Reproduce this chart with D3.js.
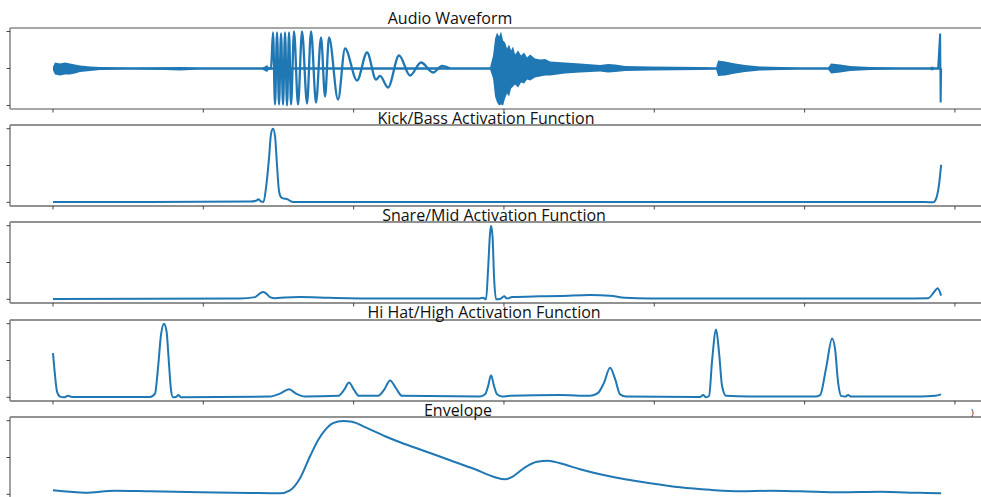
<!DOCTYPE html>
<html>
<head>
<meta charset="utf-8">
<script src="https://cdn.jsdelivr.net/npm/d3@7"></script>
<style>
body { margin: 0; background: #fff; }
svg { display: block; font-family: "Open Sans", sans-serif; }
</style>
</head>
<body>
<script>
// ---- data (time in seconds) ----
const titles = ["Audio Waveform", "Kick/Bass Activation Function", "Snare/Mid Activation Function",
	"Hi Hat/High Activation Function", "Envelope"];
const xTicks = [0, 1, 2, 3, 4, 5, 6];
const waveTicks = [-1, 0, 1];
const actTicks = [0, 0.5, 1];

// waveform: noisy parts as an envelope
const noiseT = [0, 0.0133, 0.0466, 0.0798, 0.1131, 0.1464, 0.1796, 0.2462, 0.3127, 0.5123, 0.7452, 0.8450, 0.9780,
	1.3906, 1.4105, 1.4238, 1.4371, 2.6414, 2.9075,
	2.9275, 2.9408, 2.9541, 2.9674, 2.9807, 2.9940, 3.0073, 3.0206, 3.0339, 3.0472, 3.0605, 3.0739, 3.0938,
	3.1138, 3.1337, 3.1537, 3.1737, 3.2069, 3.2402, 3.2735, 3.3067,
	3.4065, 3.5063, 3.6394, 3.6926, 3.7392, 3.8057, 3.9721, 4.3047, 4.4112, 4.4245,
	4.4711, 4.5376, 4.6041, 4.7039, 4.9701, 5.1564, 5.1763, 5.2362, 5.3027, 5.4358, 5.6354, 5.8350, 5.8483, 5.8616, 5.9082];
const noiseHi = [0.05, 0.162, 0.135, 0.162, 0.135, 0.108, 0.081, 0.054, 0.041, 0.027, 0.032, 0.041, 0.027,
	0.027, 0.054, 0.095, 0.027, 0.027, 0.027,
	0.351, 0.811, 0.973, 0.865, 1.0, 0.757, 0.703, 0.541, 0.649, 0.486, 0.595, 0.378, 0.486,
	0.351, 0.432, 0.297, 0.378, 0.270, 0.243, 0.257, 0.189,
	0.162, 0.135, 0.095, 0.122, 0.108, 0.068, 0.054, 0.041, 0.027, 0.216,
	0.189, 0.135, 0.095, 0.054, 0.027, 0.027, 0.135, 0.108, 0.068, 0.041, 0.027, 0.027, 0.054, 0.027, 0.027];
const noiseLo = [-0.05, -0.162, -0.189, -0.162, -0.162, -0.135, -0.095, -0.068, -0.041, -0.027, -0.041, -0.054, -0.027,
	-0.027, -0.068, -0.095, -0.027, -0.027, -0.027,
	-0.27, -0.757, -0.919, -1.0, -0.973, -1.0, -0.811, -0.676, -0.757, -0.541, -0.486, -0.432, -0.514,
	-0.378, -0.405, -0.297, -0.324, -0.243, -0.216, -0.189, -0.189,
	-0.135, -0.108, -0.081, -0.108, -0.095, -0.068, -0.054, -0.041, -0.027, -0.203,
	-0.189, -0.135, -0.095, -0.054, -0.027, -0.027, -0.135, -0.108, -0.068, -0.041, -0.027, -0.027, -0.054, -0.027, -0.027];

// waveform: the kick oscillation (alternating extremes)
const kickWaveT = [1.4371, 1.4504, 1.4637, 1.4770, 1.4904, 1.5037, 1.5170, 1.5303, 1.5436, 1.5569, 1.5702, 1.5835,
	1.6035, 1.6301, 1.6567, 1.6900, 1.7166, 1.7498, 1.7831, 1.8097, 1.8363, 1.8962, 1.9428, 2.0226, 2.0892, 2.1490,
	2.1757, 2.2289, 2.3021, 2.3752, 2.4484, 2.5283, 2.5882, 2.6414];
const kickWaveA = [0, 0, 0.973, -0.973, 0.973, -0.973, 0.946, -0.973, 0.973, -1.0, 0.973, -0.973,
	1.0, -0.973, 1.0, -0.946, 1.0, -0.919, 0.838, -0.757, 0.838, -0.838, 0.541, -0.324, 0.432, -0.30,
	-0.2, -0.514, 0.351, -0.189, 0.162, -0.108, 0.068, 0];

// waveform: the click at the very end
const spikeT = [5.8882, 5.9015, 5.9049, 5.9082];
const spikeA = [0, 0.946, -0.919, 0];

const kickT = [0, 0.6454, 1.3107, 1.3506, 1.3673, 1.3839, 1.4005, 1.4172, 1.4371, 1.4504, 1.4637, 1.4770, 1.4904,
	1.5037, 1.5170, 1.5369, 1.5569, 1.5768, 1.5968, 2.3087, 4.3047, 5.8017, 5.8550, 5.8749, 5.8948, 5.9082];
const kickV = [0.005, 0.005, 0.01, 0.02, 0.04, 0.01, 0.005, 0.2, 0.6, 0.93, 1.0, 0.9, 0.5,
	0.15, 0.07, 0.05, 0.045, 0.02, 0.005, 0.005, 0.004, 0.005, 0.0, 0.05, 0.25, 0.51];

const snareT = [0, 1.2442, 1.3440, 1.3772, 1.3972, 1.4172, 1.4438, 1.4770, 1.5436, 1.6434, 1.8430, 2.1757,
	2.8277, 2.8609, 2.8809, 2.8942, 2.9075, 2.9142, 2.9241, 2.9341, 2.9474, 2.9740, 3.0007, 3.0206, 3.0539,
	3.2402, 3.3733, 3.5729, 3.7059, 3.8057, 3.9721, 5.6354, 5.8217, 5.8616, 5.8849, 5.9082];
const snareV = [0.005, 0.01, 0.03, 0.08, 0.1, 0.08, 0.03, 0.015, 0.025, 0.03, 0.02, 0.01,
	0.01, 0.02, 0.0, 0.4, 0.9, 1.0, 0.85, 0.3, 0.0, 0.005, 0.04, 0.01, 0.03,
	0.04, 0.045, 0.06, 0.05, 0.02, 0.01, 0.01, 0.015, 0.1, 0.15, 0.05];

const hihatT = [0, 0.0133, 0.0266, 0.0466, 0.0732, 0.0998, 0.1264,
	0.6454, 0.6786, 0.6986, 0.7186, 0.7385, 0.7552, 0.7718, 0.7851, 0.7984, 0.8184, 0.8350, 0.8516,
	1.4438, 1.5103, 1.5702, 1.6168, 1.6766,
	1.8962, 1.9361, 1.9694, 2.0027, 2.0359,
	2.1624, 2.2023, 2.2422, 2.2821, 2.3220,
	2.8410, 2.8743, 2.8942, 2.9142, 2.9341, 2.9541, 2.9874, 3.0406,
	3.3733, 3.5729, 3.6261, 3.6660, 3.7059, 3.7392, 3.7725, 3.8124,
	4.3047, 4.3247, 4.3447, 4.3646, 4.3846, 4.4112, 4.4311, 4.4511, 4.4777, 4.6374,
	5.0699, 5.1031, 5.1431, 5.1830, 5.2029, 5.2229, 5.2428, 5.2695, 5.2894, 5.3094,
	5.7685, 5.8683, 5.9082];
const hihatV = [0.6, 0.3, 0.08, 0.01, 0.0, 0.02, 0.005,
	0.005, 0.05, 0.4, 0.85, 1.0, 0.9, 0.45, 0.1, 0.0, 0.005, 0.03, 0.0,
	0.01, 0.05, 0.11, 0.05, 0.01,
	0.02, 0.1, 0.2, 0.1, 0.02,
	0.02, 0.1, 0.23, 0.12, 0.02,
	0.01, 0.04, 0.15, 0.3, 0.15, 0.04, 0.01, 0.02,
	0.03, 0.02, 0.06, 0.2, 0.4, 0.25, 0.04, 0.01,
	0.005, 0.03, 0.0, 0.02, 0.5, 0.92, 0.6, 0.15, 0.02, 0.01,
	0.01, 0.03, 0.4, 0.8, 0.65, 0.2, 0.02, 0.01, 0.03, 0.01,
	0.01, 0.02, 0.04];

const envT = [0, 0.1131, 0.2129, 0.4125, 0.6454, 0.9780, 1.3107, 1.5103, 1.5768, 1.6434, 1.7099, 1.7631, 1.8097,
	1.8629, 1.9295, 1.9894, 2.0758, 2.2089, 2.3087, 2.4750, 2.6414, 2.8077, 2.9408, 3.0073, 3.0605, 3.1404,
	3.2202, 3.2934, 3.3733, 3.5063, 3.6394, 3.8057, 3.9721, 4.1717, 4.3713, 4.5709, 4.7705, 4.9701, 5.2362,
	5.5023, 5.7685, 5.9082];
const envV = [0.054, 0.034, 0.023, 0.050, 0.041, 0.027, 0.018, 0.014, 0.054, 0.218, 0.517, 0.735, 0.871,
	0.966, 0.997, 0.986, 0.912, 0.789, 0.707, 0.585, 0.463, 0.340, 0.231, 0.204, 0.245, 0.367,
	0.442, 0.456, 0.422, 0.340, 0.272, 0.204, 0.150, 0.095, 0.061, 0.041, 0.048, 0.041, 0.027,
	0.034, 0.020, 0.014];

// ---- layout ----
const width = 981, height = 497;
const blue = "#1f77b4";
const panelTops = [28, 125, 222, 320, 417];
const panelH = 81;
const axLeft = 10, axRight = 985;
const titleX = [450, 486, 494, 484, 458];
const titleY = [23.5, 124, 221, 318, 416];

const zip = (xs, ys) => xs.map((t, i) => [t, ys[i]]);

const svg = d3.select("body").append("svg")
	.attr("width", width)
	.attr("height", height);

const x = d3.scaleLinear().domain([-0.286, 6.2]).range([axLeft, axRight]);

function drawPanel(i, yDomain, yTicks) {
	const top = panelTops[i];
	const y = d3.scaleLinear().domain(yDomain).range([top + panelH, top]);
	const g = svg.append("g");

	g.append("rect")
		.attr("x", axLeft).attr("y", top)
		.attr("width", axRight - axLeft).attr("height", panelH)
		.attr("fill", "#fff");

	// spines
	const dark = i === 0 ? "#8a8a8a" : "#262626";
	g.append("line").attr("x1", axLeft).attr("x2", axRight).attr("y1", top).attr("y2", top)
		.attr("stroke", dark).attr("stroke-width", i === 0 ? 1.6 : 1.2);
	g.append("line").attr("x1", axLeft).attr("x2", axRight).attr("y1", top + panelH).attr("y2", top + panelH)
		.attr("stroke", dark).attr("stroke-width", i === 0 ? 1.6 : 1.2);
	g.append("line").attr("x1", axLeft).attr("x2", axLeft).attr("y1", top).attr("y2", top + panelH)
		.attr("stroke", "#8a8a8a").attr("stroke-width", 1.6);

	// ticks
	g.selectAll(".xt").data(xTicks).join("line")
		.attr("x1", d => x(d)).attr("x2", d => x(d))
		.attr("y1", top + panelH).attr("y2", top + panelH + 3.5)
		.attr("stroke", "#333").attr("stroke-width", 0.9);
	g.selectAll(".yt").data(yTicks).join("line")
		.attr("x1", axLeft - 3.5).attr("x2", axLeft)
		.attr("y1", d => y(d)).attr("y2", d => y(d))
		.attr("stroke", "#333").attr("stroke-width", 0.9);

	return { g, y };
}

function drawTitle(i) {
	svg.append("text")
		.attr("x", titleX[i]).attr("y", titleY[i])
		.attr("text-anchor", "middle")
		.attr("font-size", 16)
		.attr("fill", "#111")
		.text(titles[i]);
}

// panel 1: waveform
{
	const { g, y } = drawPanel(0, [-1.095, 1.095], waveTicks);
	const area = d3.area().x(d => x(d[0])).y0(d => y(d[2])).y1(d => y(d[1]));
	g.append("path")
		.datum(noiseT.map((t, k) => [t, noiseHi[k], noiseLo[k]]))
		.attr("d", area)
		.attr("fill", blue);
	g.append("line")
		.attr("x1", x(0)).attr("x2", x(noiseT[noiseT.length - 1]))
		.attr("y1", y(0)).attr("y2", y(0))
		.attr("stroke", blue).attr("stroke-width", 2);
	const line = d3.line().x(d => x(d[0])).y(d => y(d[1]));
	g.append("path")
		.datum(zip(kickWaveT, kickWaveA))
		.attr("d", line.curve(d3.curveMonotoneX))
		.attr("fill", "none").attr("stroke", blue).attr("stroke-width", 2.3);
	g.append("path")
		.datum(zip(spikeT, spikeA))
		.attr("d", d3.line().x(d => x(d[0])).y(d => y(d[1])))
		.attr("fill", "none").attr("stroke", blue).attr("stroke-width", 2);
}
drawTitle(0);

// panels 2-5: smooth curves
const curves = [[kickT, kickV], [snareT, snareV], [hihatT, hihatV], [envT, envV]];
curves.forEach(([ts, vs], k) => {
	const i = k + 1;
	const { g, y } = drawPanel(i, [-0.05, 1.05], actTicks);
	g.append("path")
		.datum(zip(ts, vs))
		.attr("d", d3.line().x(d => x(d[0])).y(d => y(d[1])).curve(d3.curveMonotoneX))
		.attr("fill", "none")
		.attr("stroke", blue)
		.attr("stroke-width", 2)
		.attr("stroke-linejoin", "round");
	drawTitle(i);
});

// a stray tick-label remnant at the right edge
svg.append("text")
	.attr("x", 971).attr("y", 416)
	.attr("font-size", 9)
	.attr("fill", "#222")
	.text(")");
</script>
</body>
</html>
